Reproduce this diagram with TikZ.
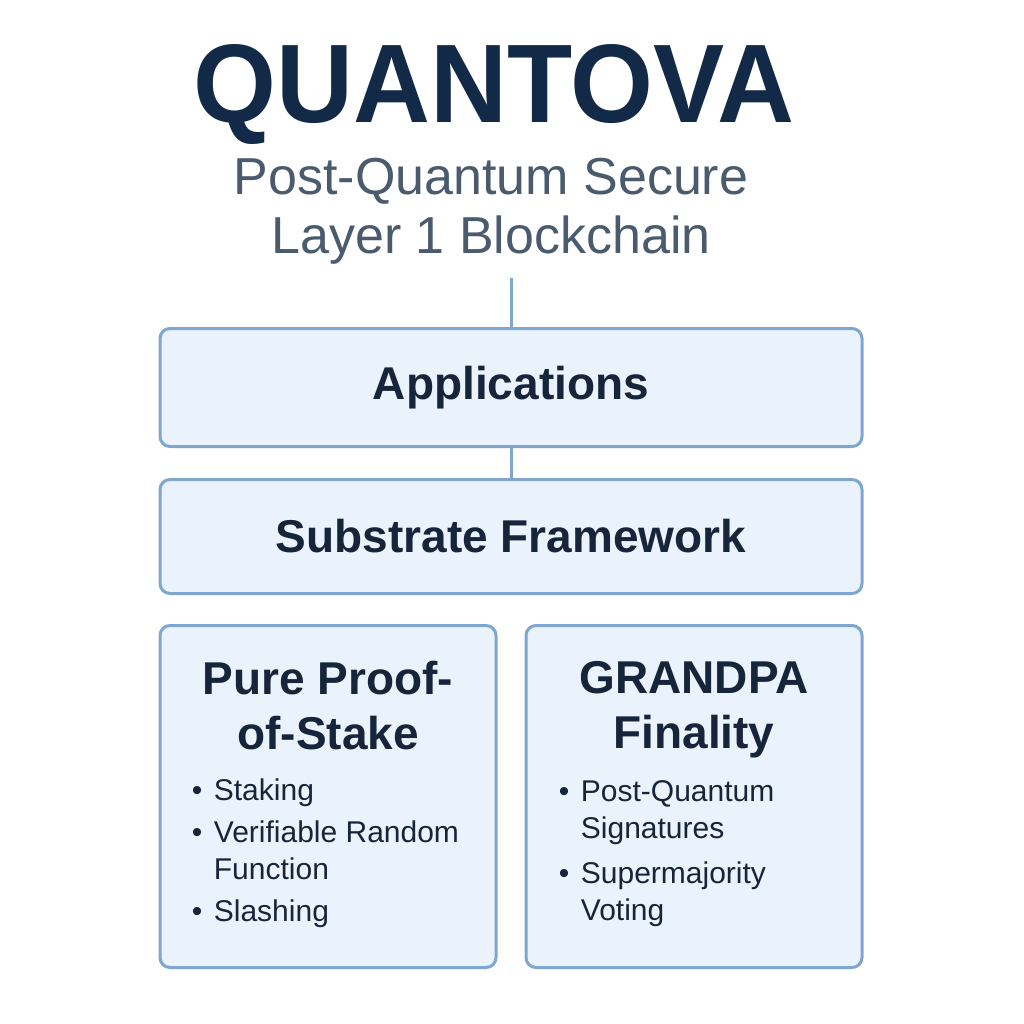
\documentclass[tikz,border=0pt]{standalone}
\usepackage{fontspec}
\usepackage{graphicx}
\setmainfont{Liberation Sans}
\usetikzlibrary{positioning}
\definecolor{navy}{HTML}{122A48}
\definecolor{ink}{HTML}{17253A}
\definecolor{slate}{HTML}{4A5B6E}
\definecolor{edge}{HTML}{7FA6CF}
\definecolor{pale}{HTML}{EAF3FC}
\newcommand{\bul}[1]{\par\noindent\hangindent=11pt\hangafter=1\makebox[11pt][l]{\textbullet}#1}
\begin{document}
\begin{tikzpicture}[
 x=0.5pt,y=-0.5pt,
 node distance=15.5pt,
 layer/.style={draw=edge,line width=1.5pt,rounded corners=5pt,fill=pale,minimum width=351pt,minimum height=59pt,font=\fontsize{23}{27}\selectfont\bfseries,text=ink},
 pillar/.style={draw=edge,line width=1.5pt,rounded corners=5pt,fill=pale,minimum width=168pt,minimum height=171pt},
 head/.style={font=\fontsize{23}{27.5}\selectfont\bfseries,text=ink,align=center},
 items/.style={font=\fontsize{15}{18.5}\selectfont,text=ink,text width=150pt,align=flush left,inner sep=0pt},
 link/.style={draw=edge,line width=1.5pt}
]
\useasboundingbox[fill=white] (0,0) rectangle (1024,1024);
% heading
\node[text=navy,anchor=base,inner sep=0pt] (title) at (494,122)
 {\resizebox{300pt}{39pt}{\bfseries QUANTOVA}};
\node[font=\fontsize{26}{29.5}\selectfont,text=slate,align=center] (sub) at (491,211) {Post-Quantum Secure\\Layer 1 Blockchain};
% layers
\node[layer] (apps) at (511,387.5) {Applications};
\node[layer,minimum height=57pt,below=15pt of apps] (frame) {Substrate Framework};
\node[pillar,below=14.5pt of frame.south west,anchor=north west] (pos) {};
\node[pillar,below=14.5pt of frame.south east,anchor=north east] (grandpa) {};
% pillar contents
\node[head,below=15pt of pos.north] (poshead) {Pure Proof-\\of-Stake};
\node[head,below=15pt of grandpa.north] (grandpahead) {GRANDPA\\Finality};
\node[items,anchor=north west] (positems) at ([xshift=16.5pt,yshift=-67pt]pos.north west)
 {\setlength{\parskip}{2.5pt}\bul{Staking}\bul{Verifiable Random\newline Function}\bul{Slashing}\par};
\node[items,anchor=north west] (grandpaitems) at ([xshift=17pt,yshift=-66pt]grandpa.north west)
 {\setlength{\parskip}{4pt}\bul{Post-Quantum\newline Signatures}\bul{Supermajority\newline Voting}\par};
% connectors
\coordinate (stem) at (511,278);
\draw[link] (stem) -- (apps.north);
\draw[link] (apps.south) -- (frame.north);
\end{tikzpicture}
\end{document}
